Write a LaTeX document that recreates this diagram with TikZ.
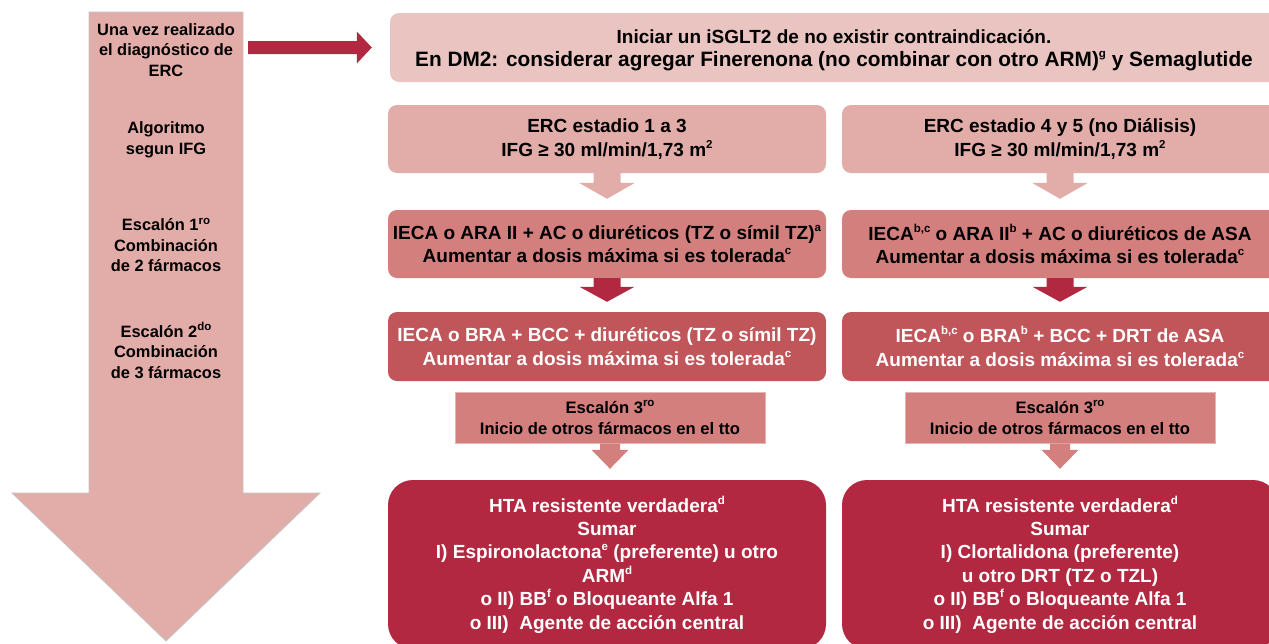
\documentclass[tikz,border=0pt]{standalone}
\usepackage{fontspec}
\setmainfont{Liberation Sans}
\usetikzlibrary{calc}

\definecolor{blush}{HTML}{EAC4C0}
\definecolor{salmon}{HTML}{E2ADA9}
\definecolor{rose}{HTML}{D27F7E}
\definecolor{brick}{HTML}{C0565A}
\definecolor{wine}{HTML}{B22840}
\definecolor{outline}{HTML}{C4C4C4}
\definecolor{roseedge}{HTML}{E7B3B1}

% small raised footnote marks
\newcommand\supx[1]{\raisebox{0.42em}{\fontsize{11.5}{11.5}\selectfont #1}}

% downward block arrow: from node #1 to node #2, colour #3,
% shaft half width #4, head half width #5, head length #6, gap before target #7
\newcommand\downblock[7]{%
  \fill[#3] let \p1=(#1.south), \p2=(#2.north) in
    (\x1-#4pt,\y1) -- (\x1+#4pt,\y1) -- (\x1+#4pt,\y2+#7pt+#6pt) -- (\x1+#5pt,\y2+#7pt+#6pt)
    -- (\x1,\y2+#7pt) -- (\x1-#5pt,\y2+#7pt+#6pt) -- (\x1-#4pt,\y2+#7pt+#6pt) -- cycle;}

\tikzset{
  box/.style={rounded corners=9pt, inner sep=0pt, align=center,
    font=\bfseries\fontsize{19}{23.5}\selectfont},
  side/.style={inner sep=0pt, align=center,
    font=\bfseries\fontsize{16.4}{20.5}\selectfont},
  stepbox/.style={draw=roseedge, line width=1pt, fill=rose, inner sep=0pt, align=center,
    minimum width=310pt, minimum height=51pt,
    font=\bfseries\fontsize{16.6}{21}\selectfont},
  finalbox/.style={box, rounded corners=25pt, fill=wine, text=white,
    minimum height=169pt, font=\bfseries\fontsize{19}{23.4}\selectfont},
}

\begin{document}
\begin{tikzpicture}[x=1pt, y=-1pt]
\useasboundingbox (0,0) rectangle (1269,643);
\begin{scope}
\clip (0,0) rectangle (1269,643);

% vertical progression arrow on the left
\draw[outline, fill=salmon, line width=0.8pt]
  (89,12) -- (243,12) -- (243,493) -- (320,493) -- (166,641) -- (12,493) -- (89,493) -- cycle;
\coordinate (spine) at (243,48.5);

\node[side] (diag) at (166,50) {Una vez realizado\\el diagnóstico de\\ERC};
\node[side] (algo) at (166,140) {Algoritmo\\segun IFG};
\node[side] (esc1) at (166,245) {Escalón 1\supx{ro}\\Combinación\\de 2 fármacos};
\node[side] (esc2) at (166,350) {Escalón 2\supx{do}\\Combinación\\de 3 fármacos};

% top recommendation
\node[box, fill=blush, minimum width=888pt, minimum height=69pt] (start) at (834,47.5) {};
\node[box] (starttext) at (834,50)
  {Iniciar un iSGLT2 de no existir contraindicación.\\
   {\fontsize{20.8}{23.5}\selectfont En DM2: considerar agregar Finerenona (no combinar con otro ARM)\supx{g} y Semaglutide}};

% arrow from the left column to the top recommendation
\fill[wine] let \p1=(spine), \p2=(start.west) in
  (\x1+5pt,\y2+6.5pt) -- (\x2-33pt,\y2+6.5pt) -- (\x2-33pt,\y2+16pt) -- (\x2-18pt,\y2)
  -- (\x2-33pt,\y2-16pt) -- (\x2-33pt,\y2-6.5pt) -- (\x1+5pt,\y2-6.5pt) -- cycle;

% stage boxes
\node[box, fill=salmon, minimum width=438pt, minimum height=68pt] (stageL) at (607,139)
  {ERC estadio 1 a 3\\IFG ≥ 30 ml/min/1,73 m\supx{2}};
\node[box, fill=salmon, minimum width=436pt, minimum height=68pt] (stageR) at (1060,139)
  {ERC estadio 4 y 5 (no Diálisis)\\IFG ≥ 30 ml/min/1,73 m\supx{2}};

% step 1
\node[box, fill=rose, minimum width=438pt, minimum height=68pt] (twoL) at (607,244)
  {IECA o ARA II + AC o diuréticos (TZ o símil TZ)\supx{a}\\
   Aumentar a dosis máxima si es tolerada\supx{c}};
\node[box, fill=rose, minimum width=436pt, minimum height=68pt] (twoR) at (1060,244)
  {IECA\supx{b,c} o ARA II\supx{b} + AC o diuréticos de ASA\\
   Aumentar a dosis máxima si es tolerada\supx{c}};

% step 2
\node[box, fill=brick, text=white, minimum width=438pt, minimum height=69pt] (threeL) at (607,346.5)
  {IECA o BRA + BCC + diuréticos (TZ o símil TZ)\\
   Aumentar a dosis máxima si es tolerada\supx{c}};
\node[box, fill=brick, text=white, minimum width=436pt, minimum height=69pt] (threeR) at (1060,346.5)
  {IECA\supx{b,c} o BRA\supx{b} + BCC + DRT de ASA\\
   Aumentar a dosis máxima si es tolerada\supx{c}};

% step 3
\node[stepbox] (otherL) at (610,417.5) {Escalón 3\supx{ro}\\Inicio de otros fármacos en el tto};
\node[stepbox] (otherR) at (1060,417.5) {Escalón 3\supx{ro}\\Inicio de otros fármacos en el tto};

% resistant hypertension
\node[finalbox, minimum width=438pt] (resL) at (607,564.5)
  {HTA resistente verdadera\supx{d}\\Sumar\\
   I) Espironolactona\supx{e} (preferente) u otro\\ARM\supx{d}\\
   o II) BB\supx{f} o Bloqueante Alfa 1\\o III)\ \ Agente de acción central};
\node[finalbox, minimum width=436pt] (resR) at (1060,564.5)
  {HTA resistente verdadera\supx{d}\\Sumar\\
   I) Clortalidona (preferente)\\u otro DRT (TZ o TZL)\\
   o II) BB\supx{f} o Bloqueante Alfa 1\\o III)\ \ Agente de acción central};

% block arrows between the boxes
\downblock{stageL}{twoL}{salmon}{13.5}{28}{16}{11}
\downblock{stageR}{twoR}{salmon}{13.5}{28}{16}{11}
\downblock{twoL}{threeL}{wine}{13.5}{27.5}{15}{10}
\downblock{twoR}{threeR}{wine}{13.5}{27.5}{15}{10}
\downblock{otherL}{resL}{rose}{10}{18.5}{19}{11}
\downblock{otherR}{resR}{rose}{10}{18.5}{19}{11}
\end{scope}
\end{tikzpicture}
\end{document}
